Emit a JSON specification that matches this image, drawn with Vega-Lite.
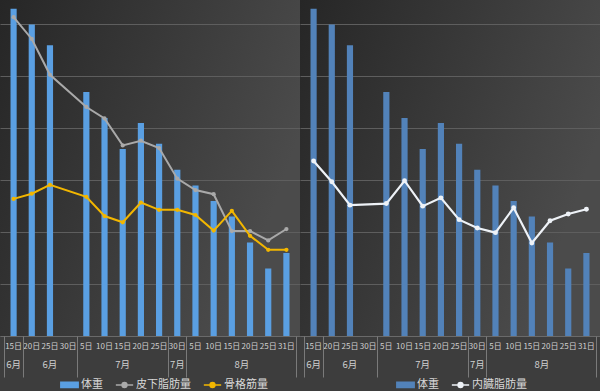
{
  "$schema": "https://vega.github.io/schema/vega-lite/v6.json",
  "background": "#3d3d3d",
  "padding": 0,
  "spacing": 0,
  "data": {"values": [
    {"d": "6/15", "w": 66.3, "sub": 66.14, "mus": 62.64, "vis": 63.37},
    {"d": "6/20", "w": 66.0, "sub": 65.72, "mus": 62.74, "vis": 62.97},
    {"d": "6/25", "w": 65.6, "sub": 65.03, "mus": 62.91, "vis": 62.52},
    {"d": "6/30", "w": null, "sub": null, "mus": null, "vis": null},
    {"d": "7/05", "w": 64.7, "sub": 64.41, "mus": 62.68, "vis": 62.55},
    {"d": "7/10", "w": 64.2, "sub": 64.19, "mus": 62.31, "vis": 62.99},
    {"d": "7/15", "w": 63.6, "sub": 63.67, "mus": 62.19, "vis": 62.50},
    {"d": "7/20", "w": 64.1, "sub": 63.76, "mus": 62.57, "vis": 62.66},
    {"d": "7/25", "w": 63.7, "sub": 63.62, "mus": 62.43, "vis": 62.24},
    {"d": "7/30", "w": 63.2, "sub": 63.03, "mus": 62.43, "vis": 62.08},
    {"d": "8/05", "w": 62.9, "sub": 62.81, "mus": 62.33, "vis": 61.99},
    {"d": "8/10", "w": 62.6, "sub": 62.73, "mus": 62.03, "vis": 62.47},
    {"d": "8/15", "w": 62.3, "sub": 62.02, "mus": 62.41, "vis": 61.79},
    {"d": "8/20", "w": 61.8, "sub": 62.02, "mus": 61.93, "vis": 62.22},
    {"d": "8/25", "w": 61.3, "sub": 61.84, "mus": 61.66, "vis": 62.35},
    {"d": "8/31", "w": 61.6, "sub": 62.06, "mus": 61.66, "vis": 62.44}
  ]},
  "config": {
    "font": "Noto Sans CJK JP",
    "view": {"stroke": null, "fill": {"gradient": "linear", "x1": 0, "y1": 0, "x2": 1, "y2": 0.4, "stops": [{"offset": 0, "color": "#262626"}, {"offset": 1, "color": "#4b4b4b"}]}},
    "axis": {"labelFont": "Noto Sans CJK JP", "labelColor": "#d0d0d0", "title": null},
    "axisY": {"orient": "left", "values": [60, 61, 62, 63, 64, 65, 66], "grid": true, "gridColor": "#5e5e5e", "gridWidth": 1, "labels": false, "ticks": false, "domain": false, "title": null},
    "legend": {"orient": "none", "direction": "horizontal", "title": null, "labelColor": "#d8d8d8", "labelFontSize": 11, "labelFont": "Noto Sans CJK JP", "symbolSize": 300, "columnPadding": 9, "labelOffset": 2, "padding": 0, "legendY": 375}
  },
  "resolve": {"scale": {"color": "independent", "x": "independent", "y": "independent"}, "legend": {"color": "independent"}},
  "hconcat": [
    {
      "width": 300,
      "height": 336,
      "resolve": {"axis": {"x": "independent"}},
      "layer": [
        {
          "mark": {"type": "bar", "width": {"band": 0.34}, "clip": true},
          "encoding": {
            "x": {"field": "d", "type": "ordinal",
              "scale": {"domain": ["6/15","6/20","6/25","6/30","7/05","7/10","7/15","7/20","7/25","7/30","8/05","8/10","8/15","8/20","8/25","8/31"], "paddingInner": 0, "paddingOuter": 0.247},
              "axis": {"orient": "bottom", "labelExpr": "toNumber(split(datum.value,'/')[1]) + '日'", "ticks": false, "domain": true, "domainColor": "#6a6a6a", "labelAngle": 0, "labelFontSize": 8, "labelPadding": 6, "labelOverlap": false, "labelBound": false, "title": null}},
            "y": {"field": "w", "type": "quantitative", "scale": {"domain": [60, 66.47], "zero": false, "nice": false}},
            "color": {"datum": "体重", "type": "nominal",
              "scale": {"domain": ["体重", "皮下脂肪量", "骨格筋量"], "range": ["#5a9fe2", "#a9a9a9", "#f2b600"]},
              "legend": {"legendX": 60, "encode": {"symbols": {"update": {
                "shape": {"signal": "datum.value === '体重' ? 'M-1,-0.3H1V0.3H-1Z' : 'M-1,0H1M-0.28,0A0.28,0.28 0 1,1 0.28,0A0.28,0.28 0 1,1 -0.28,0Z'"},
                "fill": {"signal": "datum.value === '体重' ? '#5a9fe2' : datum.value === '皮下脂肪量' ? '#a9a9a9' : '#f2b600'"},
                "stroke": {"signal": "datum.value === '体重' ? '#5a9fe2' : datum.value === '皮下脂肪量' ? '#a9a9a9' : '#f2b600'"},
                "strokeWidth": {"value": 1.5},
                "opacity": {"value": 1}
              }}}}}
          }
        },
        {
          "mark": {"type": "line", "strokeWidth": 2, "invalid": "filter", "point": {"filled": true, "size": 18}},
          "encoding": {
            "x": {"field": "d", "type": "ordinal",
              "axis": {"orient": "bottom", "values": ["6/15","6/30","7/25","7/30","8/31"], "tickBand": "extent", "tickSize": 41, "tickColor": "#7a7a7a", "labels": false, "domain": false, "title": null}},
            "y": {"field": "sub", "type": "quantitative"},
            "color": {"datum": "皮下脂肪量", "type": "nominal"}
          }
        },
        {
          "mark": {"type": "line", "strokeWidth": 2, "invalid": "filter", "point": {"filled": true, "size": 18}},
          "encoding": {
            "x": {"field": "d", "type": "ordinal",
              "axis": {"orient": "bottom", "values": ["6/15","6/25","7/15","7/30","8/15"], "labelExpr": "split(datum.value,'/')[0] + '月'", "ticks": false, "domain": false, "offset": 20, "labelPadding": 3, "labelFontSize": 9.5, "labelAngle": 0, "labelOverlap": false, "title": null,
                "labelOffset": {"condition": {"test": "datum.value === '8/15'", "value": 10}, "value": 0}}},
            "y": {"field": "mus", "type": "quantitative"},
            "color": {"datum": "骨格筋量", "type": "nominal"}
          }
        }
      ]
    },
    {
      "width": 300,
      "height": 336,
      "resolve": {"axis": {"x": "independent"}},
      "layer": [
        {
          "mark": {"type": "bar", "width": {"band": 0.34}, "clip": true},
          "encoding": {
            "x": {"field": "d", "type": "ordinal",
              "scale": {"domain": ["6/15","6/20","6/25","6/30","7/05","7/10","7/15","7/20","7/25","7/30","8/05","8/10","8/15","8/20","8/25","8/31"], "paddingInner": 0, "paddingOuter": 0.247},
              "axis": {"orient": "bottom", "labelExpr": "toNumber(split(datum.value,'/')[1]) + '日'", "ticks": false, "domain": true, "domainColor": "#6a6a6a", "labelAngle": 0, "labelFontSize": 8, "labelPadding": 6, "labelOverlap": false, "labelBound": false, "title": null}},
            "y": {"field": "w", "type": "quantitative", "scale": {"domain": [60, 66.47], "zero": false, "nice": false}},
            "color": {"datum": "体重", "type": "nominal",
              "scale": {"domain": ["体重", "内臓脂肪量"], "range": ["#5282b9", "#eef2f7"]},
              "legend": {"legendX": 96, "encode": {"symbols": {"update": {
                "shape": {"signal": "datum.value === '体重' ? 'M-1,-0.3H1V0.3H-1Z' : 'M-1,0H1M-0.28,0A0.28,0.28 0 1,1 0.28,0A0.28,0.28 0 1,1 -0.28,0Z'"},
                "fill": {"signal": "datum.value === '体重' ? '#5282b9' : '#eef2f7'"},
                "stroke": {"signal": "datum.value === '体重' ? '#5282b9' : '#eef2f7'"},
                "strokeWidth": {"value": 1.5},
                "opacity": {"value": 1}
              }}}}}
          }
        },
        {
          "mark": {"type": "line", "strokeWidth": 2.2, "invalid": "filter"},
          "encoding": {
            "x": {"field": "d", "type": "ordinal",
              "axis": {"orient": "bottom", "values": ["6/15","6/30","7/25","7/30","8/31"], "tickBand": "extent", "tickSize": 41, "tickColor": "#7a7a7a", "labels": false, "domain": false, "title": null}},
            "y": {"field": "vis", "type": "quantitative"},
            "color": {"datum": "内臓脂肪量", "type": "nominal"}
          }
        },
        {
          "mark": {"type": "point", "filled": true, "size": 24, "opacity": 1, "invalid": "filter"},
          "encoding": {
            "x": {"field": "d", "type": "ordinal",
              "axis": {"orient": "bottom", "values": ["6/15","6/25","7/15","7/30","8/15"], "labelExpr": "split(datum.value,'/')[0] + '月'", "ticks": false, "domain": false, "offset": 20, "labelPadding": 3, "labelFontSize": 9.5, "labelAngle": 0, "labelOverlap": false, "title": null,
                "labelOffset": {"condition": {"test": "datum.value === '8/15'", "value": 10}, "value": 0}}},
            "y": {"field": "vis", "type": "quantitative"},
            "color": {"datum": "内臓脂肪量", "type": "nominal"}
          }
        }
      ]
    }
  ]
}
